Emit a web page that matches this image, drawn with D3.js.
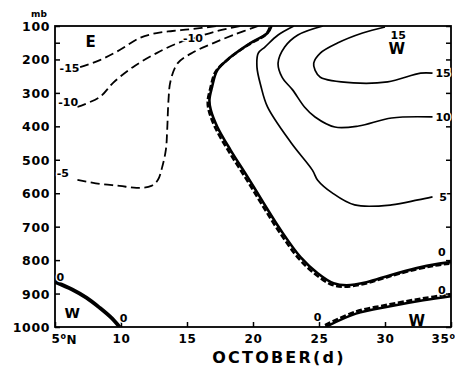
<!DOCTYPE html>
<html>
<head>
<meta charset="utf-8">
<script src="https://cdn.jsdelivr.net/npm/d3@7"></script>
<style>
  html, body { margin: 0; padding: 0; background: #fff; }
  svg { display: block; }
  text { font-family: "DejaVu Sans", sans-serif; fill: #000; }
</style>
</head>
<body>
<svg id="chart" width="455" height="367"></svg>
<script>
// Zonal wind cross-section, October: day of month vs. pressure (mb).
// Contours are stored as [day, pressure] pairs.

const dayTicks = [5, 10, 15, 20, 25, 30, 35];
const dayTickLabels = ["5", "10", "15", "20", "25", "30", "35"];
const pressureTicks = [100, 150, 200, 300, 400, 500, 600, 700, 800, 900, 1000];
const pressureLabels = [100, 200, 300, 400, 500, 600, 700, 800, 900, 1000];

// easterly contours (dashed)
const eastMinus15 = [[6.9,223],[8.4,202],[9.9,172],[11.4,136],[12.7,121],[13.9,115],[15.2,110],[17.3,100]];
const eastMinus10 = [[6.7,342],[8.4,312],[9.4,270],[10.9,223],[12.7,181],[14.5,148],[15.8,133],[17.0,118],[19.0,100]];
const eastMinus5 = [[6.7,560],[8.4,572],[9.9,578],[11.2,584],[12.3,578],[12.8,560],[13.1,525],[13.4,470],
                    [13.5,410],[13.6,320],[13.75,265],[14.3,211],[15.5,178],[17.0,151],[18.5,127],[20.4,100]];

// zero lines (heavy)
const zeroMain = [[21.4,100],[21.1,121],[19.8,151],[18.3,193],[17.3,232],[16.9,282],[16.7,321],[16.8,351],
                  [17.3,402],[18.3,471],[19.6,552],[20.8,629],[22.1,710],[23.6,791],[24.9,839],[26.1,869],
                  [27.1,875],[28.6,866],[30.4,845],[32.4,824],[33.9,812],[35,806]];
const zeroLowRight = [[25.5,1000],[27.8,960],[30.4,938],[32.9,920],[35,908]];
const zeroLowLeft = [[5,865],[6.3,888],[7.4,913],[8.4,943],[9.2,970],[9.9,1000]];

// westerly contours (solid)
const west5 = [[23.1,100],[21.9,127],[20.9,163],[20.4,181],[20.3,223],[20.6,280],[21.1,342],[22.9,450],
               [24.5,531],[24.9,561],[26.0,599],[27.7,635],[30.5,635],[32.5,620],[33.6,611]];
const west10 = [[25.3,100],[23.4,127],[22.4,163],[21.9,211],[22.2,253],[23.0,291],[23.9,342],[24.7,372],
                [26.2,402],[28.0,399],[30.5,375],[33.6,372]];
const west15 = [[30.0,103],[28.3,121],[26.4,151],[25.1,181],[24.6,211],[24.7,232],[25.1,253],[27.6,270],
                [30.2,267],[32.7,241],[33.6,241]];

// contour value labels: [day, pressure, text]
const contourLabels = [
  [6.1,226,"-15"], [6.0,327,"-10"], [15.45,136,"-10"], [5.6,540,"-5"],
  [5.4,851,"0"], [10.2,973,"0"], [24.9,970,"0"], [34.3,776,"0"], [34.3,890,"0"],
  [34.4,611,"5"], [34.4,372,"10"], [34.4,241,"15"], [31.0,127,"15"]
];
// regime labels: [day, pressure, text, size]
const regimeLabels = [[7.7,148,"E",15], [30.9,169,"W",15], [32.4,980,"W",15], [6.3,958,"W",14]];

const svg = d3.select("#chart");
const x = d3.scaleLinear().domain([5, 35]).range([55, 451]);
const y = d3.scaleLinear().domain([100, 1000]).range([26, 327]);

svg.append("defs").append("clipPath").attr("id", "plot")
  .append("rect").attr("x", x(5)).attr("y", y(100))
  .attr("width", x(35) - x(5)).attr("height", y(1000) - y(100));

const line = d3.line().x(d => x(d[0])).y(d => y(d[1])).curve(d3.curveCatmullRom.alpha(0.5));
const g = svg.append("g").attr("clip-path", "url(#plot)");

function draw(data, width, dash, dx = 0, dy = 0) {
  g.append("path").datum(data).attr("d", line)
    .attr("fill", "none").attr("stroke", "#000")
    .attr("stroke-width", width).attr("stroke-linejoin", "round")
    .attr("stroke-dasharray", dash || null)
    .attr("transform", dx || dy ? `translate(${dx},${dy})` : null);
}

[eastMinus15, eastMinus10, eastMinus5].forEach(c => draw(c, 1.8, "9,4.5"));
[west5, west10, west15].forEach(c => draw(c, 1.7));

// heavy zero isotachs: solid core with a dashed companion
draw(zeroMain, 2.6);
draw(zeroMain, 2.6, "6,2.5", -1.7, 1.5);
draw(zeroLowRight, 2.6);
draw(zeroLowRight, 2.6, "6,2.5", -0.6, -1.9);
draw(zeroLowLeft, 3.8);

// frame
svg.append("rect").attr("x", x(5)).attr("y", y(100))
  .attr("width", x(35) - x(5)).attr("height", y(1000) - y(100))
  .attr("fill", "none").attr("stroke", "#000").attr("stroke-width", 1.8);

// axes (ticks point inward)
const left = svg.append("g").attr("transform", `translate(${x(5)},0)`)
  .call(d3.axisLeft(y).tickValues(pressureTicks).tickSize(-5).tickPadding(5)
    .tickFormat(d => pressureLabels.includes(d) ? d : ""));
const right = svg.append("g").attr("transform", `translate(${x(35)},0)`)
  .call(d3.axisRight(y).tickValues(pressureTicks).tickSize(-5).tickFormat(""));
const bottom = svg.append("g").attr("transform", `translate(0,${y(1000)})`)
  .call(d3.axisBottom(x).tickValues(dayTicks).tickSize(-5).tickPadding(7)
    .tickFormat((d, i) => dayTickLabels[i]));

[left, right, bottom].forEach(a => {
  a.select(".domain").remove();
  a.selectAll("line").attr("stroke", "#000").attr("stroke-width", 1.5);
});
left.selectAll("text").attr("font-size", 12.5).attr("font-weight", "bold")
  .attr("letter-spacing", 0.6).attr("dy", "0.36em");
bottom.selectAll("text").attr("font-size", 12).attr("font-weight", "bold")
  .attr("letter-spacing", 0.6);

// first and last day labels carry a degree mark (and N for the first)
bottom.selectAll(".tick text").each(function (d, i) {
  const t = d3.select(this);
  if (i === 0) {
    t.attr("text-anchor", "start").attr("dx", -4);
    t.append("tspan").attr("font-size", 8).attr("dy", "-0.45em").text("o");
    t.append("tspan").attr("dy", "0.45em").text("N");
  } else if (i === dayTicks.length - 1) {
    t.attr("text-anchor", "end").attr("dx", 4);
    t.append("tspan").attr("font-size", 8).attr("dy", "-0.45em").text("o");
  }
});

svg.append("text").attr("x", 39).attr("y", 17).attr("text-anchor", "middle")
  .attr("font-size", 9).attr("font-weight", "bold").text("mb");

svg.append("text").attr("x", (x(5) + x(35)) / 2 + 26).attr("y", 363)
  .attr("text-anchor", "middle").attr("font-size", 16).attr("font-weight", "bold")
  .attr("letter-spacing", 2.2).text("OCTOBER(d)");

// contour labels with a white halo to break the line underneath
svg.append("g").selectAll("text").data(contourLabels).join("text")
  .attr("x", d => x(d[0])).attr("y", d => y(d[1])).attr("dy", "0.36em")
  .attr("text-anchor", "middle").attr("font-size", 11).attr("font-weight", "bold")
  .attr("stroke", "#fff").attr("stroke-width", 2.5).attr("paint-order", "stroke")
  .text(d => d[2]);

svg.append("g").selectAll("text").data(regimeLabels).join("text")
  .attr("x", d => x(d[0])).attr("y", d => y(d[1])).attr("dy", "0.36em")
  .attr("text-anchor", "middle").attr("font-size", d => d[3]).attr("font-weight", "bold")
  .text(d => d[2]);
</script>
</body>
</html>
